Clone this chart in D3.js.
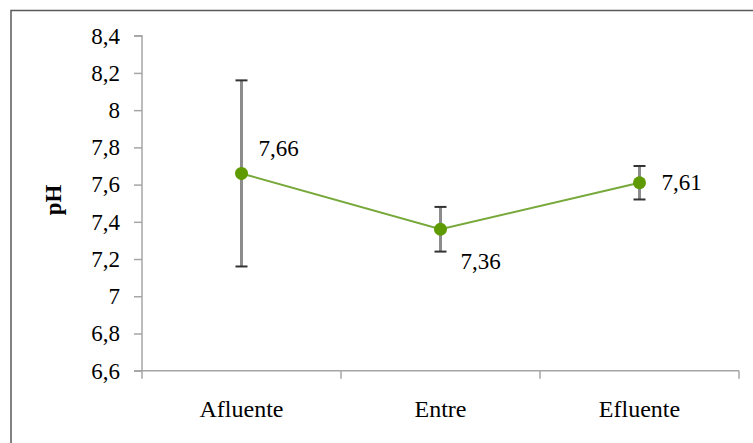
<!DOCTYPE html>
<html>
<head>
<meta charset="utf-8">
<script src="https://cdn.jsdelivr.net/npm/d3@7"></script>
<style>
  html, body { margin: 0; padding: 0; background: #fff; }
  svg { display: block; }
  text { font-family: "Liberation Serif", "Times New Roman", serif; }
</style>
</head>
<body>
<svg id="chart" width="753" height="443"></svg>
<script>
// ---- data ----
const categories = ["Afluente", "Entre", "Efluente"];
const means = [7.66, 7.36, 7.61];
const errors = [0.5, 0.12, 0.09];
const valueLabels = ["7,66", "7,36", "7,61"];
const yTicks = [6.6, 6.8, 7, 7.2, 7.4, 7.6, 7.8, 8, 8.2, 8.4];
const yTitle = "pH";

// ---- layout ----
const W = 753, H = 443;
const plot = { left: 142, right: 739, top: 35.7, bottom: 370.7 };
const labelPlacement = ["aboveRight", "belowRight", "right"];

const svg = d3.select("#chart");

// outer frame (left + top edges visible)
svg.append("path")
  .attr("d", `M11,${H} L11,10.5 L${W},10.5`)
  .attr("fill", "none")
  .attr("stroke", "#5a5a5a")
  .attr("stroke-width", 1.5);

const x = d3.scaleBand().domain(categories).range([plot.left, plot.right]).padding(0);
const y = d3.scaleLinear().domain([6.6, 8.4]).range([plot.bottom, plot.top]);

const fmt = d => d3.format("")(d).replace(".", ",");
const axisColor = "#a6a6a6";
const serif = "Liberation Serif, Times New Roman, serif";

// y axis
const yAxis = svg.append("g")
  .attr("transform", `translate(${plot.left},0)`)
  .call(d3.axisLeft(y).tickValues(yTicks).tickFormat(fmt).tickSize(8).tickPadding(14));
yAxis.attr("font-family", serif).attr("font-size", 23);
yAxis.select(".domain").attr("stroke", axisColor).attr("stroke-width", 1.5)
  .attr("d", `M-8,${plot.top}H0V${plot.bottom}`);
yAxis.selectAll(".tick line").attr("stroke", axisColor).attr("stroke-width", 1.5);
yAxis.selectAll(".tick text").attr("fill", "#000");

// x axis
const xAxis = svg.append("g")
  .attr("transform", `translate(0,${plot.bottom})`)
  .call(d3.axisBottom(x).tickSize(0).tickPadding(22));
xAxis.attr("font-family", serif).attr("font-size", 24);
xAxis.select(".domain").remove();
xAxis.append("line")
  .attr("x1", plot.left - 8).attr("x2", plot.right)
  .attr("y1", 0).attr("y2", 0)
  .attr("stroke", axisColor).attr("stroke-width", 1.5);
const bounds = [plot.left, ...categories.map(c => x(c) + x.bandwidth())];
xAxis.selectAll(".bnd").data(bounds).enter().append("line")
  .attr("x1", d => d).attr("x2", d => d)
  .attr("y1", 0).attr("y2", 8)
  .attr("stroke", axisColor).attr("stroke-width", 1.5);
xAxis.selectAll(".tick text").attr("fill", "#000").attr("dy", "1em");

// y title
svg.append("text")
  .attr("transform", `translate(61,200) rotate(-90)`)
  .attr("text-anchor", "middle")
  .attr("font-family", serif)
  .attr("font-weight", "bold")
  .attr("font-size", 23)
  .text(yTitle);

const cx = i => x(categories[i]) + x.bandwidth() / 2;

// line
const data = categories.map((c, i) => ({ c, m: means[i], e: errors[i], i }));
svg.append("path")
  .datum(data)
  .attr("fill", "none")
  .attr("stroke", "#77a83a")
  .attr("stroke-width", 2)
  .attr("d", d3.line().x(d => cx(d.i)).y(d => y(d.m)));

// error bars
const eb = svg.append("g");
data.forEach(d => {
  eb.append("line")
    .attr("x1", cx(d.i)).attr("x2", cx(d.i))
    .attr("y1", y(d.m + d.e)).attr("y2", y(d.m - d.e))
    .attr("stroke", "#8c8c8c").attr("stroke-width", 3);
  [d.m + d.e, d.m - d.e].forEach(v => {
    eb.append("line")
      .attr("x1", cx(d.i) - 6).attr("x2", cx(d.i) + 6)
      .attr("y1", y(v)).attr("y2", y(v))
      .attr("stroke", "#333").attr("stroke-width", 2);
  });
});

// markers
svg.selectAll(".pt").data(data).enter().append("circle")
  .attr("cx", d => cx(d.i)).attr("cy", d => y(d.m))
  .attr("r", 6.5)
  .attr("fill", "#5e9a00");

// value labels
svg.selectAll(".vl").data(data).enter().append("text")
  .attr("font-family", serif).attr("font-size", 23).attr("fill", "#000")
  .attr("x", d => {
    const p = labelPlacement[d.i];
    return cx(d.i) + (p === "aboveRight" ? 17 : p === "belowRight" ? 20 : 22);
  })
  .attr("y", d => {
    const p = labelPlacement[d.i];
    return y(d.m) + (p === "aboveRight" ? -17 : p === "belowRight" ? 40 : 7);
  })
  .text((d, i) => valueLabels[i]);
</script>
</body>
</html>
